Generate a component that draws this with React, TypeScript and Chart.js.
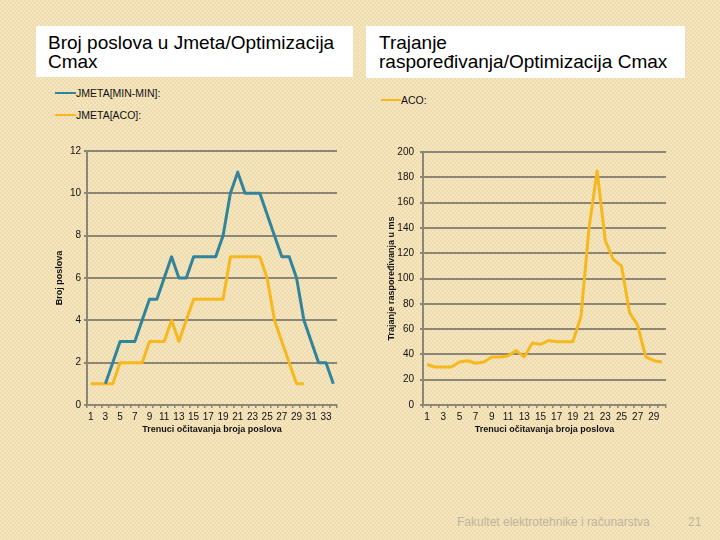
import React, { useEffect, useRef } from "react";
import { Chart, registerables } from "chart.js";

Chart.register(...registerables);

const leftCategories = ["1","2","3","4","5","6","7","8","9","10","11","12","13","14","15","16","17","18","19","20","21","22","23","24","25","26","27","28","29","30","31","32","33","34"];
const jmetaMinMin = [null,null,1,2,3,3,3,4,5,5,6,7,6,6,7,7,7,7,8,10,11,10,10,10,9,8,7,7,6,4,3,2,2,1];
const jmetaAco = [1,1,1,1,2,2,2,2,3,3,3,4,3,4,5,5,5,5,5,7,7,7,7,7,6,4,3,2,1,1,null,null,null,null];

const rightCategories = ["1","2","3","4","5","6","7","8","9","10","11","12","13","14","15","16","17","18","19","20","21","22","23","24","25","26","27","28","29","30"];
const acoDuration = [32,30,30,30,34,35,33,34,38,38,39,43,38,49,48,51,50,50,50,70,140,185,130,115,110,73,63,38,35,34];

const TEAL = "#31849b";
const YELLOW = "#f6b81e";
const GRID = "#8c8676";
const FONT = "'Liberation Sans', Arial, sans-serif";

type ChartProps = {
  labels: string[];
  datasets: { label: string; data: (number | null)[]; color: string }[];
  yMax: number;
  yStep: number;
  yTitle: string;
  xTitle: string;
  left: number;
  top: number;
  width: number;
  height: number;
  yAxisWidth: number;
  xAxisHeight: number;
  padTop: number;
  padRight: number;
  yTitlePad: number;
  yTickPad: number;
};

function LineChart(p: ChartProps) {
  const ref = useRef<HTMLCanvasElement | null>(null);
  useEffect(() => {
    if (!ref.current) return;
    const chart = new Chart(ref.current, {
      type: "line",
      data: {
        labels: p.labels,
        datasets: p.datasets.map((d) => ({
          label: d.label,
          data: d.data,
          borderColor: d.color,
          backgroundColor: d.color,
          borderWidth: 3,
          pointRadius: 0,
          tension: 0,
          borderJoinStyle: "round" as const,
          borderCapStyle: "butt" as const,
          spanGaps: false,
        })),
      },
      options: {
        animation: false,
        responsive: false,
        maintainAspectRatio: false,
        layout: { padding: { top: p.padTop, right: p.padRight, left: 0, bottom: 0 } },
        plugins: { legend: { display: false }, tooltip: { enabled: false }, title: { display: false } },
        scales: {
          x: {
            type: "category",
            offset: true,
            grid: { display: true, drawOnChartArea: false, drawTicks: true, tickLength: 3, offset: true, color: GRID, lineWidth: 1.5 },
            border: { display: true, color: GRID, width: 2 },
            ticks: {
              autoSkip: false,
              maxRotation: 0,
              minRotation: 0,
              padding: 3,
              color: "#111",
              font: { family: FONT, size: 10 },
              callback: (_v: any, idx: number) => (idx % 2 === 0 ? p.labels[idx] : ""),
            },
            title: {
              display: true,
              text: p.xTitle,
              color: "#111",
              font: { family: FONT, size: 9, weight: "bold" },
              padding: { top: 0, bottom: 10 },
            },
            afterFit: (s: any) => {
              s.height = p.xAxisHeight;
            },
          },
          y: {
            min: 0,
            max: p.yMax,
            grid: { color: GRID, lineWidth: 2, drawTicks: true, tickLength: 3 },
            border: { display: true, color: GRID, width: 2 },
            ticks: { stepSize: p.yStep, padding: p.yTickPad, color: "#111", font: { family: FONT, size: 10 } },
            title: {
              display: true,
              text: p.yTitle,
              color: "#111",
              font: { family: FONT, size: 9, weight: "bold" },
              padding: { top: p.yTitlePad, bottom: 0 },
            },
            afterFit: (s: any) => {
              s.width = p.yAxisWidth;
            },
          },
        },
      } as any,
    });
    return () => chart.destroy();
  }, []);
  return (
    <canvas
      ref={ref}
      width={p.width}
      height={p.height}
      style={{ position: "absolute", left: p.left, top: p.top, width: p.width, height: p.height }}
    />
  );
}

const titleBox: React.CSSProperties = {
  position: "absolute",
  background: "#ffffff",
  color: "#000",
  fontFamily: FONT,
  fontSize: 19,
  lineHeight: "19px",
  boxSizing: "border-box",
  whiteSpace: "nowrap",
};

const legendText: React.CSSProperties = {
  position: "absolute",
  fontFamily: FONT,
  fontSize: 10.5,
  color: "#111",
  lineHeight: "12px",
  whiteSpace: "nowrap",
};

function LegendLine({ x, y, w, color }: { x: number; y: number; w: number; color: string }) {
  return <div style={{ position: "absolute", left: x, top: y - 1, width: w, height: 2, background: color }} />;
}

export default function App() {
  return (
    <div
      style={{
        position: "fixed",
        left: 0,
        top: 0,
        width: 720,
        height: 540,
        overflow: "hidden",
        backgroundColor: "#f3e2b8",
        backgroundImage: "repeating-conic-gradient(#f5e6c0 0 25%, #efdcae 0 50%)",
        backgroundSize: "4px 4px",
      }}
    >
      <div style={{ ...titleBox, left: 36, top: 26, width: 317, height: 51, padding: "7px 0 0 12px" }}>
        Broj poslova u Jmeta/Optimizacija
        <br />
        Cmax
      </div>
      <div style={{ ...titleBox, left: 366, top: 26, width: 319, height: 52, padding: "7px 0 0 13px" }}>
        Trajanje
        <br />
        raspoređivanja/Optimizacija Cmax
      </div>

      <LegendLine x={55} y={93} w={21} color={TEAL} />
      <div style={{ ...legendText, left: 76, top: 87 }}>JMETA[MIN-MIN]:</div>
      <LegendLine x={55} y={115} w={21} color={YELLOW} />
      <div style={{ ...legendText, left: 76, top: 109 }}>JMETA[ACO]:</div>
      <LegendLine x={381} y={100} w={20} color={YELLOW} />
      <div style={{ ...legendText, left: 401, top: 94 }}>ACO:</div>

      <LineChart
        labels={leftCategories}
        datasets={[
          { label: "JMETA[MIN-MIN]:", data: jmetaMinMin, color: TEAL },
          { label: "JMETA[ACO]:", data: jmetaAco, color: YELLOW },
        ]}
        yMax={12}
        yStep={2}
        yTitle="Broj poslova"
        xTitle="Trenuci očitavanja broja poslova"
        left={30}
        top={140}
        width={315}
        height={305}
        yAxisWidth={57}
        xAxisHeight={40}
        padTop={11}
        padRight={8}
        yTitlePad={24}
        yTickPad={3}
      />
      <LineChart
        labels={rightCategories}
        datasets={[{ label: "ACO:", data: acoDuration, color: YELLOW }]}
        yMax={200}
        yStep={20}
        yTitle="Trajanje raspoređivanja u ms"
        xTitle="Trenuci očitavanja broja poslova"
        left={370}
        top={140}
        width={305}
        height={305}
        yAxisWidth={53}
        xAxisHeight={40}
        padTop={12}
        padRight={9}
        yTitlePad={16}
        yTickPad={6}
      />

      <div
        style={{
          position: "absolute",
          left: 457,
          top: 515,
          fontFamily: FONT,
          fontSize: 12,
          color: "#bdb49e",
          whiteSpace: "nowrap",
        }}
      >
        Fakultet elektrotehnike i računarstva
      </div>
      <div
        style={{
          position: "absolute",
          left: 688,
          top: 515,
          fontFamily: FONT,
          fontSize: 12,
          color: "#bdb49e",
        }}
      >
        21
      </div>
    </div>
  );
}
